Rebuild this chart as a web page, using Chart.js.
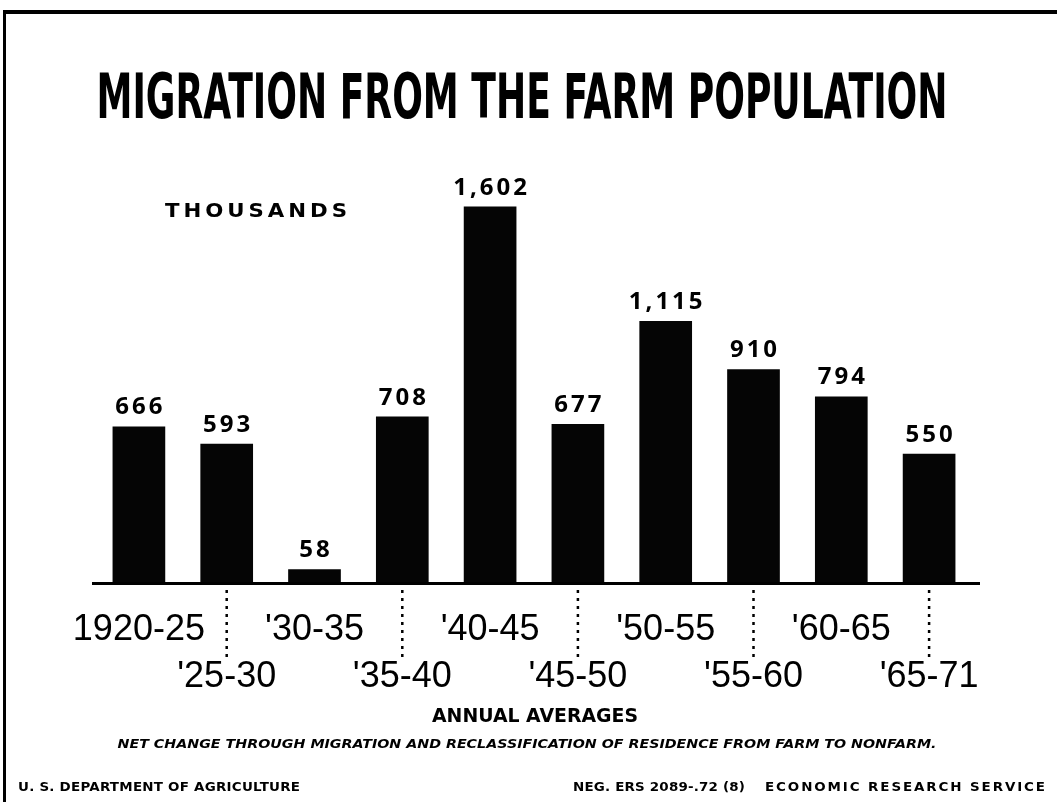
<!DOCTYPE html>
<html>
<head>
<meta charset="utf-8">
<script src="https://cdn.jsdelivr.net/npm/chart.js@4.4.1/dist/chart.umd.min.js"></script>
<style>
  html, body { margin: 0; padding: 0; background: #fff; }
  #wrap { width: 1057px; height: 802px; position: relative; }
</style>
</head>
<body>
<div id="wrap"><canvas id="farmChart"></canvas></div>
<script>
// data (thousands, annual averages)
const periods = ["1920-25", "'25-30", "'30-35", "'35-40", "'40-45", "'45-50", "'50-55", "'55-60", "'60-65", "'65-71"];
const migration = [666, 593, 58, 708, 1602, 677, 1115, 910, 794, 550];

const titleText = 'MIGRATION FROM THE FARM POPULATION';
const unitText = 'THOUSANDS';
const axisText = 'ANNUAL AVERAGES';
const noteText = 'NET CHANGE THROUGH MIGRATION AND RECLASSIFICATION OF RESIDENCE FROM FARM TO NONFARM.';
const footLeft = 'U. S. DEPARTMENT OF AGRICULTURE';
const footMid = 'NEG. ERS 2089-.72 (8)';
const footRight = 'ECONOMIC RESEARCH SERVICE';

// make a text fill a given width: stretch a little, then letter spacing; squeeze when too long
function fitText(c, text, x, y, w, font, align) {
    c.save();
    c.font = font;
    c.letterSpacing = '0px';
    c.textBaseline = 'alphabetic';
    c.textAlign = 'left';
    const m = c.measureText(text).width;
    let left = x;
    if (align === 'center') left = x - w / 2;
    if (align === 'right') left = x - w;
    const k = w / m;
    c.translate(left, y);
    if (k > 1) {
        const s = Math.min(k, 1.12);
        c.scale(s, 1);
        c.letterSpacing = ((w / s - m) / (text.length - 1)) + 'px';
    } else {
        c.scale(k, 1);
    }
    c.fillText(text, 0, 0);
    c.restore();
}

const extras = {
    id: 'extras',
    beforeDraw(chart) {
        const c = chart.ctx;
        c.save();
        c.fillStyle = '#fff';
        c.fillRect(0, 0, chart.width, chart.height);
        // frame (top + left edge of the original board)
        c.fillStyle = '#000';
        c.fillRect(3, 10, chart.width - 3, 4);
        c.fillRect(3, 10, 3, chart.height - 10);
        c.restore();
    },
    afterDraw(chart) {
        const c = chart.ctx;
        const x = chart.scales.x;
        const y = chart.scales.y;
        const area = chart.chartArea;
        const base = y.getPixelForValue(0);
        c.save();
        c.fillStyle = '#000';
        c.strokeStyle = '#000';

        // baseline
        c.fillRect(area.left - 3, base - 1, area.right - area.left + 10, 3);

        // values over bars
        c.font = 'bold 24px "Open Sans", sans-serif';
        c.letterSpacing = '3px';
        c.textAlign = 'center';
        c.textBaseline = 'alphabetic';
        chart.getDatasetMeta(0).data.forEach((bar, i) => {
            c.fillText(migration[i].toLocaleString('en-US'), bar.x + 1.5, bar.y - 12);
        });
        c.letterSpacing = '0px';

        // dotted leaders down to the lower row of labels
        c.setLineDash([3, 5]);
        c.lineWidth = 2.5;
        periods.forEach((p, i) => {
            if (i % 2 === 1) {
                const px = x.getPixelForValue(i);
                c.beginPath();
                c.moveTo(px, base + 7);
                c.lineTo(px, base + 78);
                c.stroke();
            }
        });
        c.setLineDash([]);

        // THOUSANDS
        fitText(c, unitText, 256, 217, 182, 'bold 19px "DejaVu Sans", sans-serif', 'center');

        // title
        fitText(c, titleText, 522, 118, 851, 'bold 62px "Liberation Sans Narrow", "DejaVu Sans Condensed", sans-serif', 'center');

        // axis caption, note and footer
        fitText(c, axisText, 535, 722, 206, 'bold 19px "DejaVu Sans", sans-serif', 'center');
        fitText(c, noteText, 527, 748, 819, 'italic bold 13px "DejaVu Sans", sans-serif', 'center');
        fitText(c, footLeft, 18, 791, 282, 'bold 12px "DejaVu Sans", sans-serif', 'left');
        fitText(c, footMid, 745, 791, 172, 'bold 12px "DejaVu Sans", sans-serif', 'right');
        fitText(c, footRight, 1045, 791, 280, 'bold 12px "DejaVu Sans", sans-serif', 'right');
        c.restore();
    }
};

const ctx = document.getElementById('farmChart').getContext('2d');

const data = {
    labels: periods,
    datasets: [
        {
            data: migration,
            backgroundColor: '#050505',
            borderWidth: 0,
            barPercentage: 0.6,
            categoryPercentage: 1.0,
        },
    ],
};

const config = {
    type: 'bar',
    data: data,
    options: {
        responsive: true,
        maintainAspectRatio: false,
        animation: false,
        layout: { padding: { top: 160, left: 95, right: 84, bottom: 0 } },
        plugins: {
            legend: { display: false },
            tooltip: { enabled: false },
            title: { display: false },
        },
        scales: {
            y: {
                display: false,
                min: 0,
                max: 1800,
            },
            x: {
                grid: { display: false, drawTicks: false },
                border: { display: false },
                afterFit: (scale) => { scale.height = 219; },
                ticks: {
                    color: '#000',
                    maxRotation: 0,
                    autoSkip: false,
                    padding: 24,
                    font: { family: '"Liberation Sans", Arial, sans-serif', size: 36, lineHeight: '47px' },
                    callback: (v, i) => (i % 2 === 0 ? [periods[i], ''] : ['', periods[i]]),
                },
            },
        },
    },
    plugins: [extras],
};

const farmChart = new Chart(ctx, config);
</script>
</body>
</html>
